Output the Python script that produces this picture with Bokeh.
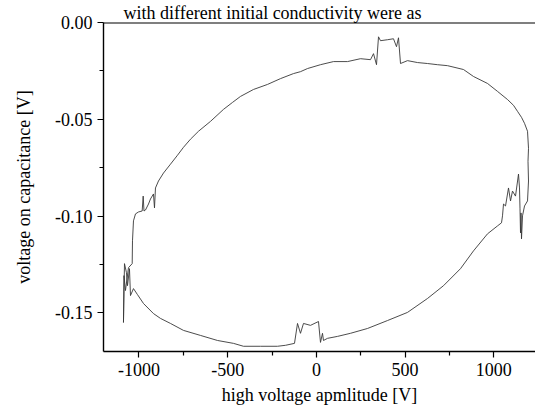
from bokeh.plotting import figure
from bokeh.models import Range1d, Span, FixedTicker, PrintfTickFormatter
from bokeh.embed import file_html
from bokeh.resources import INLINE

# high voltage amplitude [V] and voltage on capacitance [V], traced around the loop
voltage = [
    -1038.3, -1036.6, -1031.0, -1019.7, -1002.8, -982.0, -976.3, -971.8, -963.4, -946.4,
    -935.2, -918.3, -912.6, -907.0, -890.1, -861.9, -822.4, -783.0, -749.2, -709.7,
    -664.6, -597.0, -523.7, -472.9, -427.8, -354.6, -275.6, -202.4, -129.1, -89.6,
    -50.2, 23.1, 96.4, 175.3, 248.6, 305.0, 321.9, 338.8, 350.1, 361.3,
    400.8, 434.6, 451.5, 462.8, 474.1, 513.5, 569.9, 626.3, 682.6, 739.0,
    829.2, 885.6, 964.5, 1020.9, 1077.2, 1111.1, 1133.6, 1156.1, 1173.1, 1190.0,
    1195.6, 1192.8, 1195.6, 1190.0, 1173.1, 1161.8, 1156.1, 1153.3, 1150.5, 1147.7,
    1144.9, 1139.2, 1122.3, 1105.4, 1094.2, 1082.9, 1066.0, 1054.7, 1049.0, 1043.4,
    1020.9, 964.5, 885.6, 812.3, 716.5, 626.3, 513.5, 400.8, 288.1, 192.2,
    118.9, 62.6, 40.0, 34.4, 23.1, 11.8, -33.3, -72.7, -89.6, -106.5,
    -123.5, -174.2, -219.3, -315.1, -410.9, -467.3, -557.5, -653.3, -749.2, -822.4,
    -878.8, -918.3, -974.6, -1008.5, -1031.0, -1047.9, -1053.6, -1064.8, -1070.5, -1081.7,
    -1087.4, -1084.6, -1076.1, -1059.2, -1038.3,
]
capacitance = [
    -0.1246, -0.1128, -0.1025, -0.0989, -0.0979, -0.0974, -0.0897, -0.0974, -0.0969, -0.0938,
    -0.0912, -0.0886, -0.0958, -0.0855, -0.0819, -0.0778, -0.0732, -0.0686, -0.0645, -0.0603,
    -0.0562, -0.0511, -0.0449, -0.0413, -0.0382, -0.0346, -0.0320, -0.0290, -0.0264, -0.0254,
    -0.0238, -0.0218, -0.0202, -0.0202, -0.0187, -0.0192, -0.0161, -0.0218, -0.0074, -0.0094,
    -0.0089, -0.0084, -0.0125, -0.0079, -0.0212, -0.0197, -0.0207, -0.0212, -0.0218, -0.0223,
    -0.0243, -0.0279, -0.0315, -0.0356, -0.0398, -0.0428, -0.0459, -0.0490, -0.0521, -0.0562,
    -0.0650, -0.0717, -0.0819, -0.0922, -0.0948, -0.0999, -0.1118, -0.0984, -0.1087, -0.0963,
    -0.0855, -0.0783, -0.0897, -0.0871, -0.0922, -0.0855, -0.0948, -0.0938, -0.0999, -0.1035,
    -0.1051, -0.1092, -0.1180, -0.1272, -0.1360, -0.1426, -0.1498, -0.1540, -0.1581, -0.1606,
    -0.1622, -0.1632, -0.1643, -0.1606, -0.1653, -0.1545, -0.1565, -0.1555, -0.1606, -0.1555,
    -0.1658, -0.1668, -0.1673, -0.1673, -0.1673, -0.1658, -0.1643, -0.1617, -0.1591, -0.1555,
    -0.1529, -0.1504, -0.1452, -0.1406, -0.1375, -0.1411, -0.1272, -0.1360, -0.1293, -0.1246,
    -0.1550, -0.1308, -0.1385, -0.1267, -0.1246,
]

x_ticks = [-1000, -500, 0, 500, 1000]
y_ticks = [0.00, -0.05, -0.10, -0.15]
x_label = "high voltage apmlitude [V]"
y_label = "voltage on capacitance [V]"
top_text = "with different initial conductivity were as"

FONT = "Liberation Serif"
W, H = 535, 408
LEFT, TOP, BOTTOM = 103, 21, 57

p = figure(width=W, height=H, output_backend="svg", toolbar_location=None,
           x_range=Range1d(-1200, 1235), y_range=Range1d(-0.17, 0.0),
           min_border_left=LEFT, min_border_right=0, min_border_top=TOP,
           min_border_bottom=BOTTOM, title=top_text)

p.title.text_font = FONT
p.title.text_font_size = "18px"
p.title.text_font_style = "normal"
p.title.text_color = "black"
p.title.align = "left"
p.title.offset = 20
p.title.standoff = 0

p.line(voltage, capacitance, line_color="#383838", line_width=0.9)

p.grid.visible = False
p.outline_line_color = None
p.background_fill_color = "white"
p.border_fill_color = "white"

x_step = x_ticks[1] - x_ticks[0]
x_minor = [t + x_step / 2 for t in x_ticks] + [x_ticks[0] - x_step / 2]
y_step = y_ticks[1] - y_ticks[0]
y_minor = [t + y_step / 2 for t in y_ticks]

p.xaxis.ticker = FixedTicker(ticks=x_ticks, minor_ticks=x_minor)
p.yaxis.ticker = FixedTicker(ticks=y_ticks, minor_ticks=y_minor)
p.xaxis.formatter = PrintfTickFormatter(format="%d")
p.yaxis.formatter = PrintfTickFormatter(format="%.2f")

for ax in (p.xaxis, p.yaxis):
    ax.axis_line_color = "black"
    ax.axis_line_width = 1.4
    ax.major_tick_line_color = "black"
    ax.minor_tick_line_color = "black"
    ax.major_tick_line_width = 1.2
    ax.minor_tick_line_width = 1.2
    ax.major_tick_in = 0
    ax.major_tick_out = 6
    ax.minor_tick_in = 0
    ax.minor_tick_out = 4
    ax.major_label_text_font = FONT
    ax.major_label_text_font_size = "18px"
    ax.major_label_text_color = "black"
    ax.axis_label_text_font = FONT
    ax.axis_label_text_font_size = "18px"
    ax.axis_label_text_font_style = "normal"
    ax.axis_label_text_color = "black"
    ax.major_label_standoff = 5

p.xaxis.axis_label = x_label
p.yaxis.axis_label = y_label
p.xaxis.axis_label_standoff = 6
p.yaxis.axis_label_standoff = 18

p.add_layout(Span(location=y_ticks[0], dimension="width", line_color="black", line_width=2))

open("out.html", "w").write(file_html(p, INLINE))
